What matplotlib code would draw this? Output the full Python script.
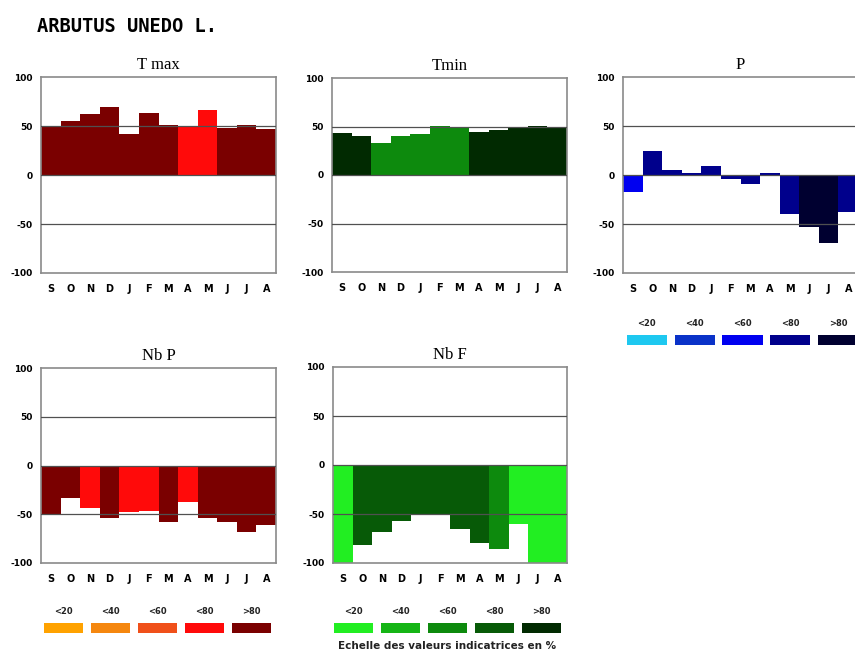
import matplotlib.pyplot as plt

months = ["S", "O", "N", "D", "J", "F", "M", "A", "M", "J", "J", "A"]
scale_labels = ["<20", "<40", "<60", "<80", ">80"]

reds = ["#ffa200", "#f5870f", "#f0501a", "#ff0a0a", "#7a0000"]
greens = ["#22ee22", "#15b515", "#0d8a0d", "#075a07", "#012a01"]
blues = ["#1ec8f0", "#0a32c8", "#0000f0", "#00008c", "#000030"]

# values, class index = colour in the scale (0..4)
tmax = [49, 55, 62, 69, 42, 63, 51, 50, 66, 48, 51, 47]
tmax_cls = [4, 4, 4, 4, 4, 4, 4, 3, 3, 4, 4, 4]
tmin = [43, 40, 33, 40, 42, 51, 49, 44, 46, 48, 51, 50]
tmin_cls = [4, 4, 2, 2, 2, 2, 2, 4, 4, 4, 4, 4]
p = [-17, 24, 5, 2, 9, -4, -9, 2, -40, -53, -69, -38]
p_cls = [2, 3, 3, 3, 3, 3, 3, 3, 3, 4, 4, 3]
nbp = [-50, -33, -44, -54, -48, -47, -58, -37, -54, -58, -68, -61]
nbp_cls = [4, 4, 3, 4, 3, 3, 4, 3, 4, 4, 4, 4]
nbf = [-100, -82, -68, -57, -51, -50, -65, -80, -86, -60, -100, -100]
nbf_cls = [0, 3, 3, 3, 3, 3, 3, 3, 2, 0, 0, 0]

W, H = 855, 652
fig = plt.figure(figsize=(W / 100, H / 100), dpi=100)


def box(l, t, r, b):
    return [l / W, 1 - b / H, (r - l) / W, (b - t) / H]


def panel(rect, title, vals, cls, pal):
    ax = fig.add_axes(box(*rect))
    x = range(len(months))
    ax.bar(x, vals, width=1.0, color=[pal[c] for c in cls], linewidth=0, zorder=2)
    for yv in (-50, 0, 50):
        ax.axhline(yv, color="#505050", lw=0.9, zorder=3)
    ax.set_xlim(-0.5, 11.5)
    ax.set_ylim(-100, 100)
    ax.set_yticks([-100, -50, 0, 50, 100])
    ax.set_yticklabels(["-100", "-50", "0", "50", "100"])
    ax.set_xticks(list(x))
    ax.set_xticklabels(months)
    ax.tick_params(axis="y", length=0, labelsize=6.5, pad=6)
    ax.tick_params(axis="x", length=0, labelsize=7, pad=8)
    for lab in ax.get_xticklabels() + ax.get_yticklabels():
        lab.set_fontweight("bold")
        lab.set_family("DejaVu Sans")
    for s in ax.spines.values():
        s.set_color("#8a8a8a")
        s.set_linewidth(1.2)
    ax.set_title(title, family="Liberation Serif", fontsize=12, pad=6)
    return ax


def legend(rect, pal):
    ax = fig.add_axes(box(*rect))
    ax.bar(range(5), [1] * 5, width=0.84, color=pal, linewidth=0)
    for i, t in enumerate(scale_labels):
        ax.text(i, 2.1, t, ha="center", va="center", fontsize=6,
                fontweight="bold", family="DejaVu Sans", color="#222222")
    ax.set_xlim(-0.5, 4.5)
    ax.set_ylim(0, 1)
    ax.axis("off")
    return ax


panel((41, 77, 276, 273), "T max", tmax, tmax_cls, reds)
panel((332, 78, 567, 272), "Tmin", tmin, tmin_cls, greens)
panel((623, 77, 858, 273), "P", p, p_cls, blues)
panel((41, 368, 276, 563), "Nb P", nbp, nbp_cls, reds)
panel((333, 367, 567, 563), "Nb F", nbf, nbf_cls, greens)

legend((623, 335, 862, 345), blues)
legend((40, 623, 275, 633), reds)
legend((330, 623, 565, 633), greens)

fig.text(37 / W, 1 - 27 / H, "ARBUTUS UNEDO L.", family="DejaVu Sans Mono",
         fontweight="bold", fontsize=13.5, va="center", ha="left")
fig.text(447 / W, 1 - 646 / H, "Echelle des valeurs indicatrices en %",
         family="DejaVu Sans", fontweight="bold", fontsize=7.5,
         ha="center", va="center", color="#222222")

fig.savefig("out.png", dpi=100)
